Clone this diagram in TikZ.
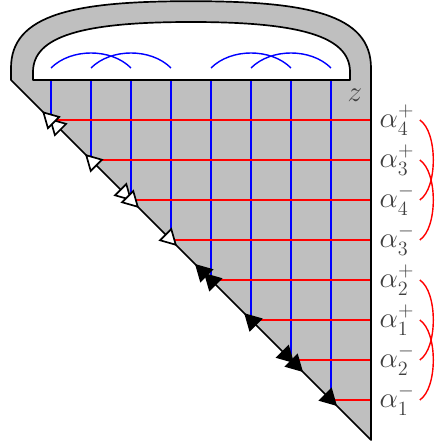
\documentclass[tikz,border=0pt]{standalone}
\usepackage{amsmath, amssymb}
\usetikzlibrary{calc,arrows.meta}

\begin{document}
\begin{tikzpicture}[line join=round,
    lbl/.style={right, inner xsep=6pt, inner ysep=2pt, text=black!75, font=\huge},
    gridv/.style={blue, line width=1pt},
    gridh/.style={red, line width=1pt},
    pairarc/.style={red, line width=1pt},
    opentip/.style={-{Triangle[open, fill=white, length=12pt, width=13pt]}, line width=1.2pt},
    opentips/.style={-{Triangle[open, fill=white, length=12pt, width=13pt, sep=-5pt] Triangle[open, fill=white, length=12pt, width=13pt]}, line width=1.2pt},
    filltip/.style={-{Triangle[length=12pt, width=13pt]}, line width=1.2pt},
    filltips/.style={-{Triangle[length=12pt, width=13pt, sep=-3pt] Triangle[length=12pt, width=13pt]}, line width=1.2pt}]
        \def\N{9} \def\ds{0.15}

        \useasboundingbox (-0.275,-0.15) rectangle (10.575,11);

        \coordinate (Top) at (0,\N);
        \coordinate (Tip) at (\N,0);

        % grid points on the diagonal
        \coordinate (g1) at (1,8); \coordinate (g2) at (2,7); \coordinate (g3) at (3,6); \coordinate (g4) at (4,5);
        \coordinate (g5) at (5,4); \coordinate (g6) at (6,3); \coordinate (g7) at (7,2); \coordinate (g8) at (8,1);

        \fill[lightgray] (Top) -- (0,9.3) .. controls (0,10.65) and (1.6,10.97) .. (4.5,10.97)
            .. controls (7.4,10.97) and (9,10.65) .. (9,9.3) -- (Tip) -- cycle;

        \draw[gridv] (1,\N) -- (g1); \draw[gridv] (2,\N) -- (g2);
        \draw[gridv] (3,\N) -- (g3); \draw[gridv] (4,\N) -- (g4);
        \draw[gridv] (5,\N) -- (g5); \draw[gridv] (6,\N) -- (g6);
        \draw[gridv] (7,\N) -- (g7); \draw[gridv] (8,\N) -- (g8);

        \draw[gridh] (g1) -- (\N,8); \draw[gridh] (g2) -- (\N,7);
        \draw[gridh] (g3) -- (\N,6); \draw[gridh] (g4) -- (\N,5);
        \draw[gridh] (g5) -- (\N,4); \draw[gridh] (g6) -- (\N,3);
        \draw[gridh] (g7) -- (\N,2); \draw[gridh] (g8) -- (\N,1);

        \draw[line width=1.2pt] (Top) -- (0,9.3) .. controls (0,10.65) and (1.6,10.97) .. (4.5,10.97)
            .. controls (7.4,10.97) and (9,10.65) .. (9,9.3) -- (Tip) -- cycle;
        \draw[line width=1.2pt, fill=white] (0.55,\N) -- (0.55,9.2) .. controls (0.55,10.1) and (1.8,10.45) .. (4.5,10.45)
            .. controls (7.2,10.45) and (8.475,10.1) .. (8.475,9.2) -- (8.475,\N) -- cycle;

        \draw[gridv] (1,9.3) .. controls (1.5,9.8) and (2.5,9.8) .. (3,9.3);
        \draw[gridv] (2,9.3) .. controls (2.5,9.8) and (3.5,9.8) .. (4,9.3);
        \draw[gridv] (5,9.3) .. controls (5.5,9.8) and (6.5,9.8) .. (7,9.3);
        \draw[gridv] (6,9.3) .. controls (6.5,9.8) and (7.5,9.8) .. (8,9.3);

        \node[text=black!75, font=\huge] (z) at (8.6,8.63) {$z$};

        % arrows along the diagonal
        \draw[opentips] ($(g1)+(0.08,-0.08)$) -- ++(-0.3,0.3);
        \draw[opentip] (g2) -- ++(-\ds,\ds);
        \draw[opentips] ($(g3)+(-0.1,0.1)$) -- ++(0.3,-0.3);
        \draw[opentip] (g4) -- ++(\ds,-\ds);
        \draw[filltips] ($(g5)+(0.1,-0.1)$) -- ++(-0.5,0.5);
        \draw[filltip] (g6) -- ++(-0.17,0.17);
        \draw[filltips] ($(g7)+(-0.12,0.12)$) -- ++(0.42,-0.42);
        \draw[filltip] (g8) -- ++(\ds,-\ds);

        \node[lbl] (a4p) at (\N,8) {$\alpha_4^+$};
        \node[lbl] (a3p) at (\N,7) {$\alpha_3^+$};
        \node[lbl] (a4m) at (\N,6) {$\alpha_4^-$};
        \node[lbl] (a3m) at (\N,5) {$\alpha_3^-$};
        \node[lbl] (a2p) at (\N,4) {$\alpha_2^+$};
        \node[lbl] (a1p) at (\N,3) {$\alpha_1^+$};
        \node[lbl] (a2m) at (\N,2) {$\alpha_2^-$};
        \node[lbl] (a1m) at (\N,1) {$\alpha_1^-$};

        \coordinate (e1) at (10.22,8); \coordinate (e2) at (10.22,7); \coordinate (e3) at (10.22,6); \coordinate (e4) at (10.22,5);
        \coordinate (e5) at (10.22,4); \coordinate (e6) at (10.22,3); \coordinate (e7) at (10.22,2); \coordinate (e8) at (10.22,1);

        \draw[pairarc] (e1) .. controls +(0.45,-0.3) and +(0.45,0.3) .. (e3);
        \draw[pairarc] (e2) .. controls +(0.45,-0.3) and +(0.45,0.3) .. (e4);
        \draw[pairarc] (e5) .. controls +(0.45,-0.3) and +(0.45,0.3) .. (e7);
        \draw[pairarc] (e6) .. controls +(0.45,-0.3) and +(0.45,0.3) .. (e8);
    \end{tikzpicture}
\end{document}
